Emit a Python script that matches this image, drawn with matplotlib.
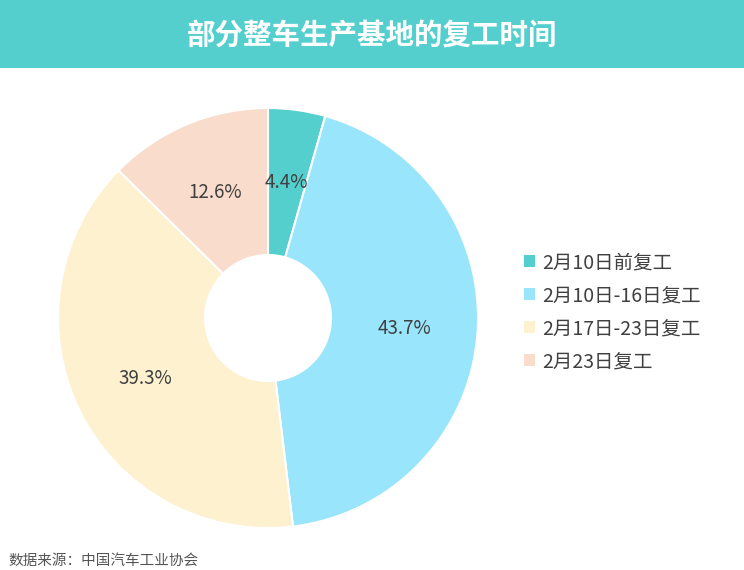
import matplotlib
matplotlib.use("Agg")
import matplotlib.pyplot as plt
from matplotlib.patches import Rectangle, Patch

plt.rcParams['font.family'] = ['Noto Sans CJK SC', 'DejaVu Sans']

# -------------------- data --------------------
title = "部分整车生产基地的复工时间"
categories = ["2月10日前复工", "2月10日-16日复工", "2月17日-23日复工", "2月23日复工"]
shares = [4.4, 43.7, 39.3, 12.6]
colors = ["#55CFCE", "#99E5FB", "#FEF1D0", "#F9DCCB"]
source = "数据来源：中国汽车工业协会"

W, H = 744, 570
fig = plt.figure(figsize=(W / 100, H / 100), dpi=100)

# title band
bar_h = 68 / H
fig.patches.append(Rectangle((0, 1 - bar_h), 1, bar_h, transform=fig.transFigure,
                             facecolor="#55CFCE", edgecolor="none", zorder=0))
fig.text(0.5, 1 - 36 / H, title, ha="center", va="center", color="white",
         fontsize=20.5, fontweight="bold")

# donut
cx, cy, r = 268, 318, 210
ax = fig.add_axes([(cx - r) / W, (H - cy - r) / H, 2 * r / W, 2 * r / H])
wedges, _, autotexts = ax.pie(
    shares, colors=colors, startangle=90, counterclock=False, radius=1.0,
    autopct="%.1f%%", pctdistance=0.65,
    wedgeprops=dict(width=0.70, edgecolor="white", linewidth=1.5),
    textprops=dict(fontsize=13.5, color="#404040"),
)
ax.set_xlim(-1, 1)
ax.set_ylim(-1, 1)
ax.set_aspect("equal")
ax.axis("off")

handles = [Patch(facecolor=c, edgecolor="none") for c in colors]
fig.legend(handles, categories, loc="upper left", bbox_to_anchor=(524 / W, 1 - 252 / H),
           frameon=False, fontsize=14, labelcolor="#404040",
           handlelength=0.55, handleheight=0.55, handletextpad=0.4,
           labelspacing=0.62, borderaxespad=0, borderpad=0)

fig.text(8 / W, 1 - 561 / H, source, ha="left", va="center", fontsize=10.5, color="#555555")

fig.savefig("out.png", dpi=100)
